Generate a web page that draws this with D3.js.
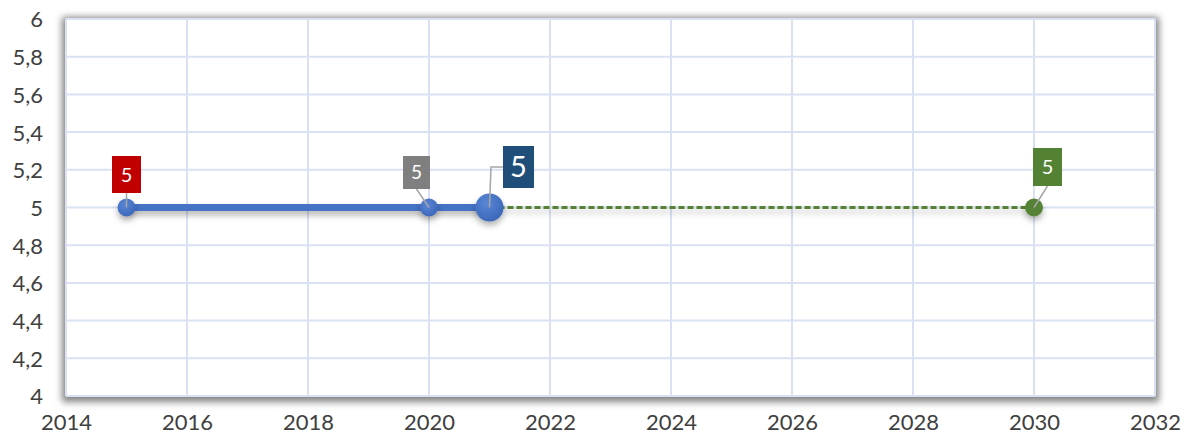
<!DOCTYPE html>
<html lang="en">
<head>
<meta charset="UTF-8">
<script src="https://cdnjs.cloudflare.com/ajax/libs/d3/7.8.5/d3.min.js"></script>
<title>Line chart</title>
<style>
    body { margin: 0; background: #fff; font-family: Lato, 'Open Sans', sans-serif; }
    .tick text { fill: #404040; font-size: 22px; font-family: Lato, 'Open Sans', sans-serif; }
    .tick line, .domain { display: none; }
</style>
</head>
<body>
<svg></svg>
<script>
    // chart data
    const actualYears = [2015, 2020, 2021]
    const actualValues = [5, 5, 5]
    const forecastYears = [2021, 2030]
    const forecastValues = [5, 5]
    const labelYears = [2015, 2020, 2021, 2030]
    const labelValues = [5, 5, 5, 5]
    const xTicks = [2014, 2016, 2018, 2020, 2022, 2024, 2026, 2028, 2030, 2032]
    const yTicks = [4, 4.2, 4.4, 4.6, 4.8, 5, 5.2, 5.4, 5.6, 5.8, 6]

    const W = 1188, H = 439
    const margin = { top: 19, right: 33, bot: 43, left: 66 }

    const x = d3.scaleLinear().domain([2014, 2032]).range([margin.left, W - margin.right])
    const y = d3.scaleLinear().domain([4, 6]).range([H - margin.bot, margin.top])

    const svg = d3.select('svg').attr('width', W).attr('height', H)

    const defs = svg.append('defs')
    // heavier frame shadow: grow the shape, then blur it
    const fb = defs.append('filter').attr('id', 'boxShadow')
        .attr('filterUnits', 'userSpaceOnUse')
        .attr('x', 0).attr('y', 0).attr('width', W).attr('height', H)
    fb.append('feMorphology').attr('in', 'SourceAlpha').attr('operator', 'dilate').attr('radius', 4).attr('result', 'grow')
    fb.append('feOffset').attr('in', 'grow').attr('dx', 0).attr('dy', 2).attr('result', 'off')
    fb.append('feGaussianBlur').attr('in', 'off').attr('stdDeviation', 3.5).attr('result', 'blur')
    fb.append('feFlood').attr('flood-color', '#6e6e6e').attr('flood-opacity', 0.85)
    fb.append('feComposite').attr('in2', 'blur').attr('operator', 'in').attr('result', 'sh')
    const fm = fb.append('feMerge')
    fm.append('feMergeNode').attr('in', 'sh')
    fm.append('feMergeNode').attr('in', 'SourceGraphic')

    defs.append('filter').attr('id', 'markShadow')
        .attr('filterUnits', 'userSpaceOnUse')
        .attr('x', 0).attr('y', 0).attr('width', W).attr('height', H)
        .append('feDropShadow')
        .attr('dx', 0).attr('dy', 4).attr('stdDeviation', 3)
        .attr('flood-color', '#000').attr('flood-opacity', 0.3)

    const grad = defs.append('radialGradient').attr('id', 'blueDot')
        .attr('cx', '40%').attr('cy', '35%').attr('r', '70%')
    grad.append('stop').attr('offset', '0%').attr('stop-color', '#5a86d6')
    grad.append('stop').attr('offset', '100%').attr('stop-color', '#3b66b8')

    // plot area with shadow
    svg.append('rect')
        .attr('x', x(2014)).attr('y', y(6))
        .attr('width', x(2032) - x(2014)).attr('height', y(4) - y(6))
        .attr('fill', '#fff')
        .attr('filter', 'url(#boxShadow)')

    // grid
    svg.append('g').selectAll('line')
        .data(yTicks).enter().append('line')
        .attr('x1', x(2014)).attr('x2', x(2032))
        .attr('y1', d => y(d)).attr('y2', d => y(d))
        .attr('stroke', '#d9e1f2').attr('stroke-width', 2)
    svg.append('g').selectAll('line')
        .data(xTicks).enter().append('line')
        .attr('x1', d => x(d)).attr('x2', d => x(d))
        .attr('y1', y(6)).attr('y2', y(4))
        .attr('stroke', '#d9e1f2').attr('stroke-width', 2)

    // axes
    const xAxis = d3.axisBottom(x).tickValues(xTicks).tickFormat(d3.format('d')).tickSize(0).tickPadding(0)
    svg.append('g')
        .attr('transform', 'translate(0,' + (H - 9) + ')')
        .call(xAxis)
        .selectAll('text').attr('dy', 0)

    const yAxis = d3.axisLeft(y).tickValues(yTicks)
        .tickFormat(d => d3.format('.1~f')(d).replace('.', ',')).tickSize(0).tickPadding(0)
    svg.append('g')
        .attr('transform', 'translate(' + 43 + ',0)')
        .call(yAxis)
        .selectAll('text').attr('dy', '0.36em')

    const line = d3.line().x(d => x(d[0])).y(d => y(d[1]))

    // forecast dashed line
    svg.append('path')
        .datum(d3.zip(forecastYears, forecastValues))
        .attr('d', line)
        .attr('fill', 'none')
        .attr('stroke', '#548235')
        .attr('stroke-width', 3)
        .attr('stroke-dasharray', '6,3')
        .attr('filter', 'url(#markShadow)')

    // actual line
    svg.append('path')
        .datum(d3.zip(actualYears, actualValues))
        .attr('d', line)
        .attr('fill', 'none')
        .attr('stroke', '#4472c4')
        .attr('stroke-width', 7)
        .attr('stroke-linecap', 'round')
        .attr('filter', 'url(#markShadow)')

    // markers
    const markRadius = [9, 9, 14]
    svg.append('g').selectAll('circle')
        .data(d3.zip(actualYears, actualValues)).enter().append('circle')
        .attr('cx', d => x(d[0])).attr('cy', d => y(d[1]))
        .attr('r', (d, i) => markRadius[i])
        .attr('fill', 'url(#blueDot)')
        .attr('filter', 'url(#markShadow)')

    svg.append('circle')
        .attr('cx', x(forecastYears[1])).attr('cy', y(forecastValues[1]))
        .attr('r', 9)
        .attr('fill', '#548235')
        .attr('filter', 'url(#markShadow)')

    // data labels: box offsets from point
    const labelStyle = [
        { fill: '#c00000', dx: -14.5, dy: -51.5, w: 29, h: 37, fs: 20, lead: 'v' },
        { fill: '#7f7f7f', dx: -26, dy: -51.5, w: 27, h: 33, fs: 19, lead: 'd' },
        { fill: '#1f4e79', dx: 13.5, dy: -61.5, w: 31, h: 42, fs: 29, lead: 'e' },
        { fill: '#548235', dx: -1, dy: -59.5, w: 29, h: 38, fs: 20, lead: 'd' }
    ]

    labelYears.forEach((yr, i) => {
        const s = labelStyle[i]
        const px = x(yr), py = y(labelValues[i])
        const bx = px + s.dx, by = py + s.dy
        let pts
        if (s.lead === 'e') {
            pts = [[bx, by + s.h / 2], [px + 1.5, by + s.h / 2], [px, py]]
        } else {
            pts = [[bx + s.w / 2, by + s.h], [px, py]]
        }
        svg.append('path')
            .attr('d', d3.line()(pts))
            .attr('fill', 'none')
            .attr('stroke', '#a6a6a6')
            .attr('stroke-width', 1.5)
        svg.append('rect')
            .attr('x', bx).attr('y', by)
            .attr('width', s.w).attr('height', s.h)
            .attr('fill', s.fill)
        svg.append('text')
            .attr('x', bx + s.w / 2).attr('y', by + s.h / 2)
            .attr('dy', '0.36em')
            .attr('text-anchor', 'middle')
            .attr('fill', '#fff')
            .style('font-size', s.fs + 'px')
            .text(labelValues[i])
    })
</script>
</body>
</html>
